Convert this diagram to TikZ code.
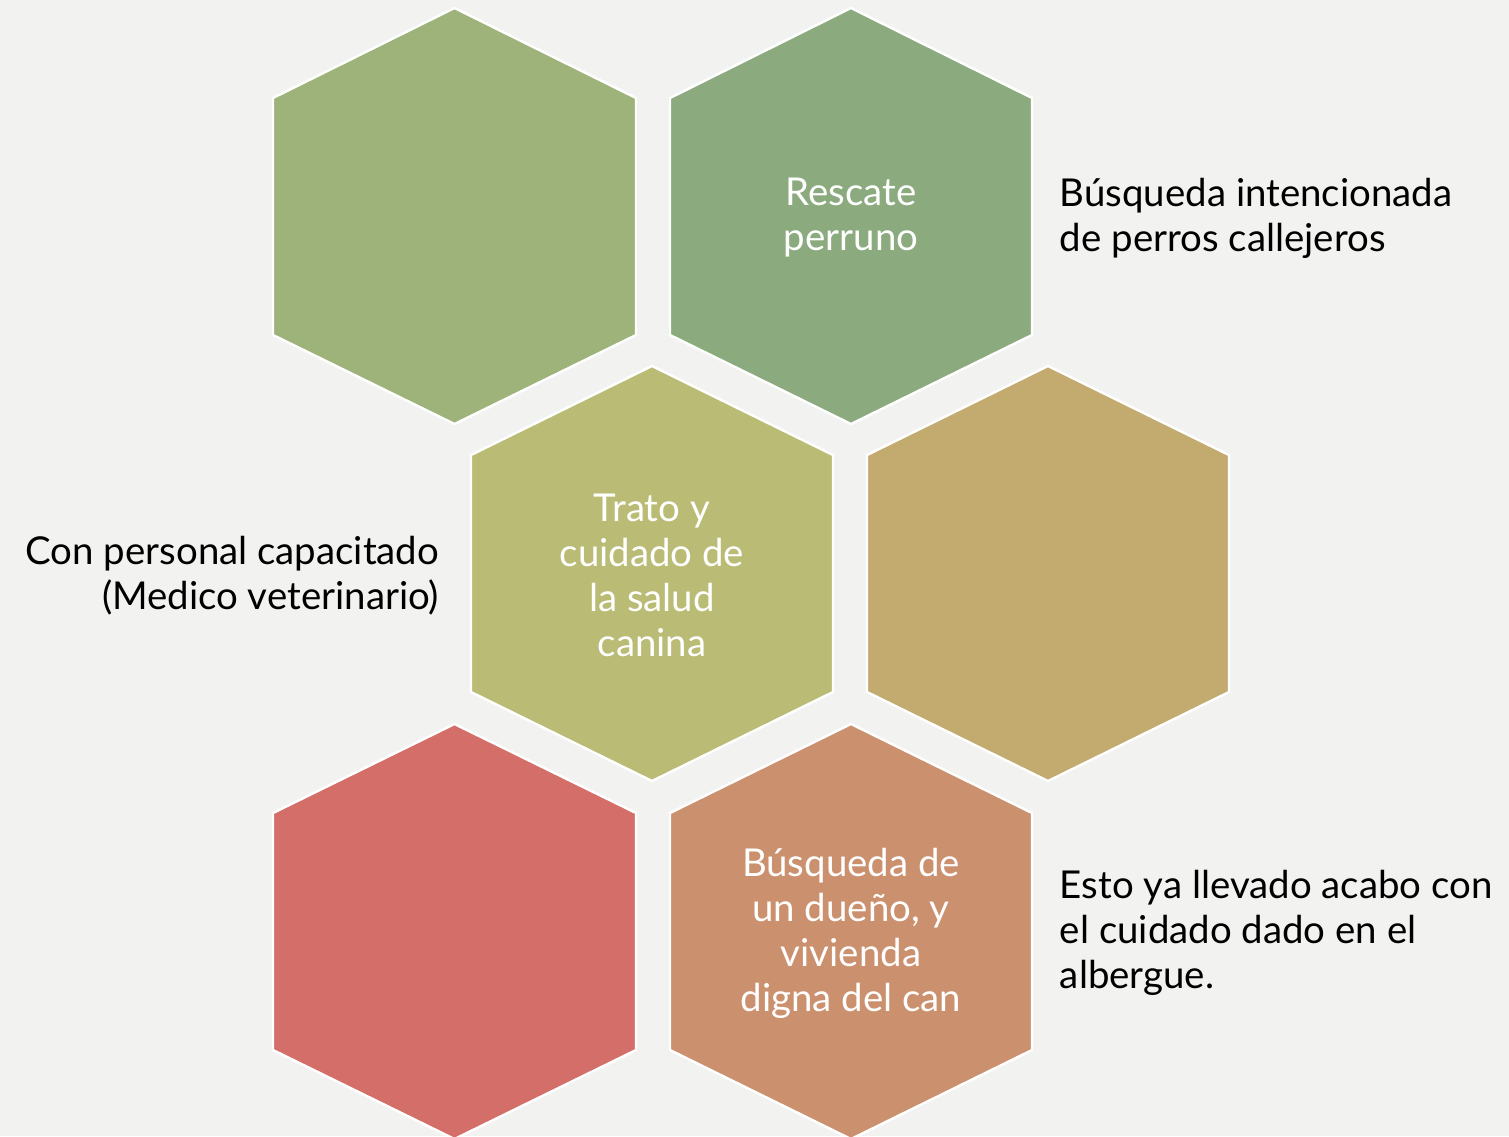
\documentclass[tikz,border=0pt]{standalone}
\usepackage{fontspec}
\setmainfont{Lato}
\definecolor{bgcol}{RGB}{242,242,240}
\definecolor{hexa}{RGB}{158,179,122}
\definecolor{hexb}{RGB}{139,170,126}
\definecolor{hexc}{RGB}{186,187,116}
\definecolor{hexd}{RGB}{195,171,112}
\definecolor{hexe}{RGB}{211,110,104}
\definecolor{hexf}{RGB}{203,144,109}
\tikzset{
  hexcell/.style={draw=white, line width=1.2pt, line join=miter},
  hextext/.style={inner sep=0.75pt, align=center, text=white, font=\fontsize{19.2}{22.5}\selectfont},
  sidetext/.style={inner sep=0.75pt, text=black, font=\fontsize{19.2}{22.5}\selectfont}
}
\begin{document}
\begin{tikzpicture}[x=0.5pt,y=0.5pt,yscale=-1]
\useasboundingbox (0,0) rectangle (1509,1136);
\fill [bgcol] (0,0) rectangle (1509,1136);

% top row
\draw [hexcell, fill=hexa] (454.5,8) -- (636,98) -- (636,335) -- (454.5,424) -- (273,335) -- (273,98) -- cycle ;
\draw [hexcell, fill=hexb] (851,8) -- (1032,98) -- (1032,335) -- (851,424) -- (670,335) -- (670,98) -- cycle ;
% middle row
\draw [hexcell, fill=hexc] (652,366) -- (833,455) -- (833,692) -- (652,781) -- (471,692) -- (471,455) -- cycle ;
\draw [hexcell, fill=hexd] (1048,366) -- (1229,455) -- (1229,692) -- (1048,781) -- (867,692) -- (867,455) -- cycle ;
% bottom row
\draw [hexcell, fill=hexe] (454.5,724) -- (636,813) -- (636,1050) -- (454.5,1139) -- (273,1050) -- (273,813) -- cycle ;
\draw [hexcell, fill=hexf] (851,724) -- (1032,813) -- (1032,1050) -- (851,1139) -- (670,1050) -- (670,813) -- cycle ;

\draw (851,218) node [hextext] (rescate) {Rescate\\perruno};
\draw (652,575.5) node [hextext] (trato) {Trato y\\cuidado de\\la salud\\canina};
\draw (851,933) node [hextext] (dueno) {Búsqueda de\\un dueño, y\\vivienda\\digna del can};

\draw (1058,218) node [sidetext, anchor=west, align=left] (busqueda) {Búsqueda intencionada\\de perros callejeros};
\draw (441,575.5) node [sidetext, anchor=east, align=right] (personal) {Con personal capacitado\\(Medico veterinario)};
\draw (1058,933) node [sidetext, anchor=west, align=left] (albergue) {Esto ya llevado acabo con\\el cuidado dado en el\\albergue.};
\end{tikzpicture}
\end{document}
